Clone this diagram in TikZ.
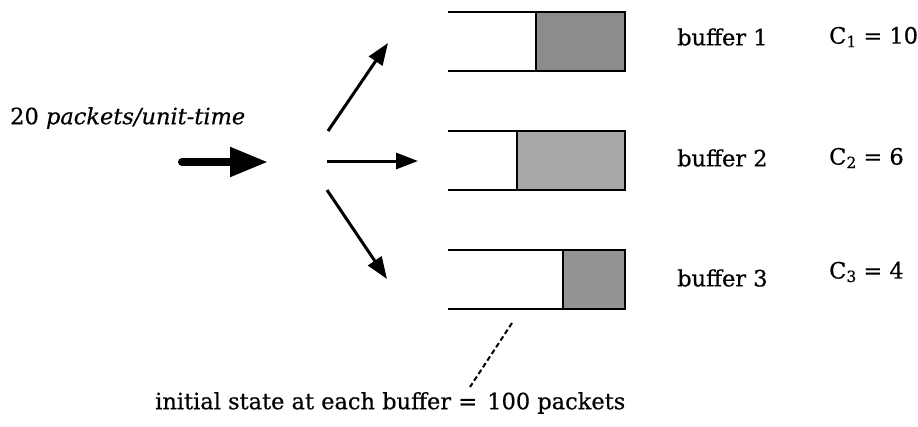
\documentclass[tikz,border=0pt]{standalone}
\usepackage{fontspec}
\setmainfont[FakeBold=0.5]{DejaVu Serif}
\usetikzlibrary{arrows.meta}
\newcommand{\sub}[1]{\raisebox{-0.3ex}{\fontsize{15.5}{15.5}\selectfont #1}}
\begin{document}
\begin{tikzpicture}[x=1pt,y=-1pt,
  txt/.style={inner sep=0pt, font=\fontsize{22.5}{26}\selectfont},
  bufline/.style={line width=2pt},
  fillbox/.style={draw, line width=2pt},
  fan/.style={line width=3pt, -{Triangle[length=22pt,width=16pt]}},
  bigarrow/.style={line width=8pt, line cap=round, -{Triangle[length=38pt,width=28pt]}}]
\useasboundingbox (0,0) rectangle (918,426);

% buffers: open-ended tube with shaded queue on the right
\draw[bufline] (448,12) -- (625,12) (448,71) -- (625,71);
\draw[fillbox, fill=black!45] (536,12) rectangle (625,71);
\draw[bufline] (448,131) -- (625,131) (448,190) -- (625,190);
\draw[fillbox, fill=black!34] (517,131) rectangle (625,190);
\draw[bufline] (448,250) -- (625,250) (448,309) -- (625,309);
\draw[fillbox, fill=black!42] (563,250) rectangle (625,309);

% incoming traffic
\node[txt, anchor=west] (rate) at (10,118) {20 \textit{packets/unit-time}};
\coordinate (inA) at (182,162);
\coordinate (inB) at (268,162);
\draw[bigarrow] (inA) -- (inB);

% split towards the three buffers
\coordinate (s1) at (328,131);
\coordinate (e1) at (388,43);
\coordinate (s2) at (327,161);
\coordinate (e2) at (418,161);
\coordinate (s3) at (327,190);
\coordinate (e3) at (387,279);
\draw[fan] (s1) -- (e1);
\draw[fan] (s2) -- (e2);
\draw[fan] (s3) -- (e3);

% labels
\node[txt, anchor=west] (b1) at (677,37) {buffer 1};
\node[txt, anchor=west] (b2) at (677,158) {buffer 2};
\node[txt, anchor=west] (b3) at (677,278) {buffer 3};
\node[txt, anchor=west] (c1) at (829,37) {C\sub{1} = 10};
\node[txt, anchor=west] (c2) at (829,158) {C\sub{2} = 6};
\node[txt, anchor=west] (c3) at (829,272) {C\sub{3} = 4};

% initial state note
\node[txt, anchor=west] (init) at (155,403) {initial state at each buffer = \hspace{3pt}100 packets};
\coordinate (d1) at (512,323);
\coordinate (d2) at (470,387);
\draw[line width=2pt, dash pattern=on 5pt off 3pt] (d1) -- (d2);
\end{tikzpicture}
\end{document}
